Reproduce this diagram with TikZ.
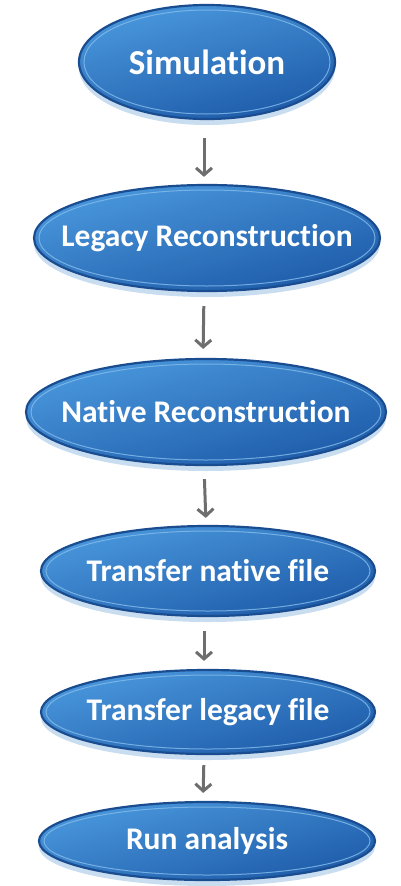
\documentclass[tikz,border=0pt]{standalone}
\usepackage{fontspec}
\setmainfont[Ligatures=NoCommon]{Carlito}
\usetikzlibrary{shapes.geometric,arrows.meta}
\definecolor{bluetop}{HTML}{4A98DD}
\definecolor{bluebot}{HTML}{1D5AA8}
\definecolor{blueedge}{HTML}{1A4C90}
\definecolor{bluehi}{HTML}{86BDEB}
\definecolor{shadowblue}{HTML}{C9DDF0}
\definecolor{arrowgray}{HTML}{6E6E6E}
\tikzset{
  stage/.style={ellipse, draw=blueedge, line width=2.2pt, inner sep=0pt,
    shading=axis, top color=bluetop, bottom color=bluebot, shading angle=15,
    text=white, font=\bfseries},
  hilite/.style={draw=bluehi, line width=1pt, opacity=0.8},
  shade/.style={fill=shadowblue},
  flow/.style={draw=arrowgray, line width=3pt, -{Straight Barb[length=7pt,width=16pt]}}
}
\newcommand\stagebox[7]{% name, cx, cy, w, h, fontsize, text
  \fill[shade] (#2pt,#3pt-6pt) ellipse ({#4pt/2} and {#5pt/2});
  \node[stage, minimum width=#4pt, minimum height=#5pt,
        font=\bfseries\fontsize{#6pt}{#6pt}\selectfont] (#1) at (#2pt,#3pt) {\makebox[0pt]{#7}};
  \draw[hilite] (#1.center) ellipse ({#4pt/2-5pt} and {#5pt/2-5pt});
}
\begin{document}
\begin{tikzpicture}
\useasboundingbox[fill=white] (0pt,0pt) rectangle (400pt,-886pt);
\stagebox{sim}{207}{-62}{256}{114}{35}{Simulation}
\stagebox{leg}{207}{-238}{346}{106}{31.5}{Legacy Reconstruction}
\stagebox{nat}{206}{-412}{360}{106}{31.5}{Native Reconstruction}
\stagebox{tnf}{208}{-571}{334}{90}{31.5}{Transfer native file}
\stagebox{tlf}{208}{-712}{334}{84}{31.5}{Transfer legacy file}
\stagebox{run}{207}{-841}{336}{78}{31.5}{Run analysis}
\draw[flow, shorten <=18pt, shorten >=7pt] ([xshift=-3pt]sim.south) -- ([xshift=-3pt]leg.north);
\draw[flow, shorten <=14pt, shorten >=9pt] ([xshift=-3pt]leg.south) -- ([xshift=-3pt]nat.north);
\draw[flow, shorten <=13pt, shorten >=7pt] ([xshift=-2pt]nat.south) -- ([xshift=-2pt]tnf.north);
\draw[flow, shorten <=14pt, shorten >=8pt] ([xshift=-4pt]tnf.south) -- ([xshift=-4pt]tlf.north);
\draw[flow, shorten <=10pt, shorten >=8pt] ([xshift=-4pt]tlf.south) -- ([xshift=-4pt]run.north);
\end{tikzpicture}
\end{document}
